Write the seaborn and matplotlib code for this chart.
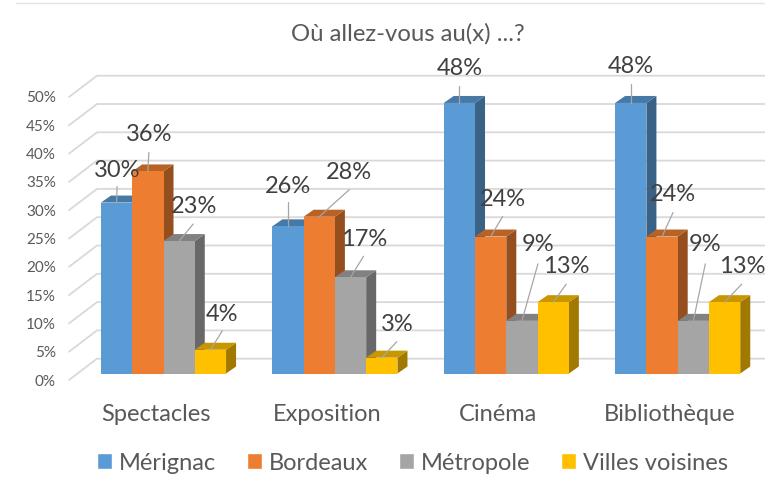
import numpy as np
import pandas as pd
import matplotlib
matplotlib.use("Agg")
import matplotlib.pyplot as plt
import matplotlib.transforms as mtrans
from matplotlib.lines import Line2D
from matplotlib.patches import Polygon
from matplotlib.colors import to_rgb
import seaborn as sns

categories = ["Spectacles", "Exposition", "Cinéma", "Bibliothèque"]
series_names = ["Mérignac", "Bordeaux", "Métropole", "Villes voisines"]
merignac = [30.2, 26.0, 47.8, 47.8]
bordeaux = [35.7, 27.7, 24.2, 24.2]
metropole = [23.4, 17.0, 9.3, 9.3]
villes = [4.2, 2.8, 12.6, 12.6]
colors = ["#5B9BD5", "#ED7D31", "#A5A5A5", "#FFC000"]
y_ticks = list(range(0, 55, 5))

W, H = 765, 490
# axes box in pixels: bars sit on BASE_Y, group spacing and value scale
AX_L, AX_R, BASE_Y, TOP_Y = 69, 765, 373.5, 90.5
GROUP_PX = 171.4
FIRST_PX = 163.5
DEPTH_X, DEPTH_Y = 10, 7
TEXT = "#595959"

sns.set_theme(style="white")
plt.rcParams["font.family"] = ["Lato", "DejaVu Sans"]

df = pd.DataFrame({
    "cat": categories * 4,
    "serie": np.repeat(series_names, 4),
    "val": merignac + bordeaux + metropole + villes,
})

fig = plt.figure(figsize=(W / 100, H / 100), dpi=100)
ax = fig.add_axes([AX_L / W, 1 - BASE_Y / H, (AX_R - AX_L) / W, (BASE_Y - TOP_Y) / H])
sns.barplot(data=df, x="cat", y="val", hue="serie", palette=colors, width=0.73,
            saturation=1, ax=ax, legend=True, errorbar=None)
ax.set_xlim((AX_L - FIRST_PX) / GROUP_PX, (AX_R - FIRST_PX) / GROUP_PX)
ax.set_ylim(0, 50)
ax.set_xlabel("")
ax.set_ylabel("")
sns.despine(ax=ax, left=True, bottom=True, top=True, right=True)

px_x = (AX_R - AX_L) / (ax.get_xlim()[1] - ax.get_xlim()[0])
px_y = (BASE_Y - TOP_Y) / 50
xmin = ax.get_xlim()[0]


def to_px(x, y):
    return AX_L + (x - xmin) * px_x, BASE_Y - y * px_y


def from_px(x, y):
    return xmin + (x - AX_L) / px_x, (BASE_Y - y) / px_y


# walls: floor to back wall segment, then along the back wall
for v in y_ticks:
    fy = BASE_Y - v * px_y + 6.5
    by = BASE_Y - v * px_y - 14.8
    xs, ys = zip(*[from_px(69, fy), from_px(97, by), from_px(AX_R, by)])
    ax.plot(xs, ys, color="#D9D9D9", lw=1.3, zorder=0.5, clip_on=False)

# 3d faces taken from the bars seaborn drew
bars = [p for p in ax.patches if p.get_height() > 0]
bars = sorted(bars, key=lambda p: p.get_x())
dx = DEPTH_X / px_x
dy = DEPTH_Y / px_y
for i, p in enumerate(bars):
    x0, w, h = p.get_x(), p.get_width(), p.get_height()
    rgb = np.array(to_rgb(p.get_facecolor()[:3]))
    z = 2 + i
    side = Polygon([(x0 + w, 0), (x0 + w + dx, dy), (x0 + w + dx, h + dy), (x0 + w, h)],
                   facecolor=rgb * 0.63, edgecolor="none", zorder=z, clip_on=False)
    top = Polygon([(x0, h), (x0 + dx, h + dy), (x0 + w + dx, h + dy), (x0 + w, h)],
                  facecolor=rgb * 0.78, edgecolor="none", zorder=z, clip_on=False)
    ax.add_patch(side)
    ax.add_patch(top)
    p.set_zorder(z + 0.5)
    p.set_clip_on(False)
    p.set_edgecolor("none")

# label centre and leader start, offset in pixels from each bar's top centre
label_off = [
    (1, -32), (1, -37), (15, -35), (12, -35),
    (0, -40), (30, -44), (14, -38), (15, -33),
    (0, -34), (12, -37), (16, -76), (13, -36),
    (0, -36), (11, -42), (12, -76), (18, -36),
]
leader_off = [
    (0.5, -16), (1, -19), (14, -17), (12, -19),
    (0, -24), (30, -27), (13, -21), (15, -16),
    (0, -17), (12, -20), (16, -57), (13, -18),
    (0, -19), (11, -24), (12, -57), (17, -18),
]
for i, p in enumerate(bars):
    cx, ty = to_px(p.get_x() + p.get_width() / 2, p.get_height())
    lx, ly = label_off[i]
    sx, sy = leader_off[i]
    x1, y1 = from_px(cx + sx, ty + sy)
    x2, y2 = from_px(cx, ty)
    ax.plot([x1, x2], [y1, y2], color="#A6A6A6", lw=0.9, zorder=30, clip_on=False)
    tx, ty2 = from_px(cx + lx, ty + ly)
    ax.text(tx, ty2, f"{p.get_height():.0f}%", ha="center", va="center", fontsize=17,
            color="#404040", zorder=40, clip_on=False)

ax.set_yticks(y_ticks)
ax.set_yticklabels([f"{v}%" for v in y_ticks], fontsize=11, color=TEXT)
ax.tick_params(axis="y", length=0, pad=9.5)
ax.tick_params(axis="x", length=0, pad=22)
ax.set_xticks(range(len(categories)))
ax.set_xticklabels(categories, fontsize=17, color=TEXT)
for lab in ax.get_yticklabels():
    lab.set_transform(lab.get_transform() + mtrans.ScaledTranslation(0, -6.5 / 100, fig.dpi_scale_trans))
for lab in ax.get_xticklabels():
    lab.set_transform(lab.get_transform() + mtrans.ScaledTranslation(-8 / 100, 0, fig.dpi_scale_trans))

fig.text(408 / W, 1 - 33.5 / H, "Où allez-vous au(x) ...?", ha="center", va="center",
         fontsize=17.2, color=TEXT)

# thin rule at the very top of the picture
fig.add_artist(Line2D([16 / W, 1], [1 - 3.5 / H, 1 - 3.5 / H], color="#E3E3E3", lw=1.0))

sns.move_legend(ax, "center", bbox_to_anchor=(412.5 / W, 1 - 463 / H), bbox_transform=fig.transFigure,
                ncol=4, frameon=False, title=None, fontsize=17, handlelength=0.63,
                handleheight=0.63, handletextpad=0.27, columnspacing=1.33, labelcolor=TEXT)

plt.savefig("out.png", dpi=100)
